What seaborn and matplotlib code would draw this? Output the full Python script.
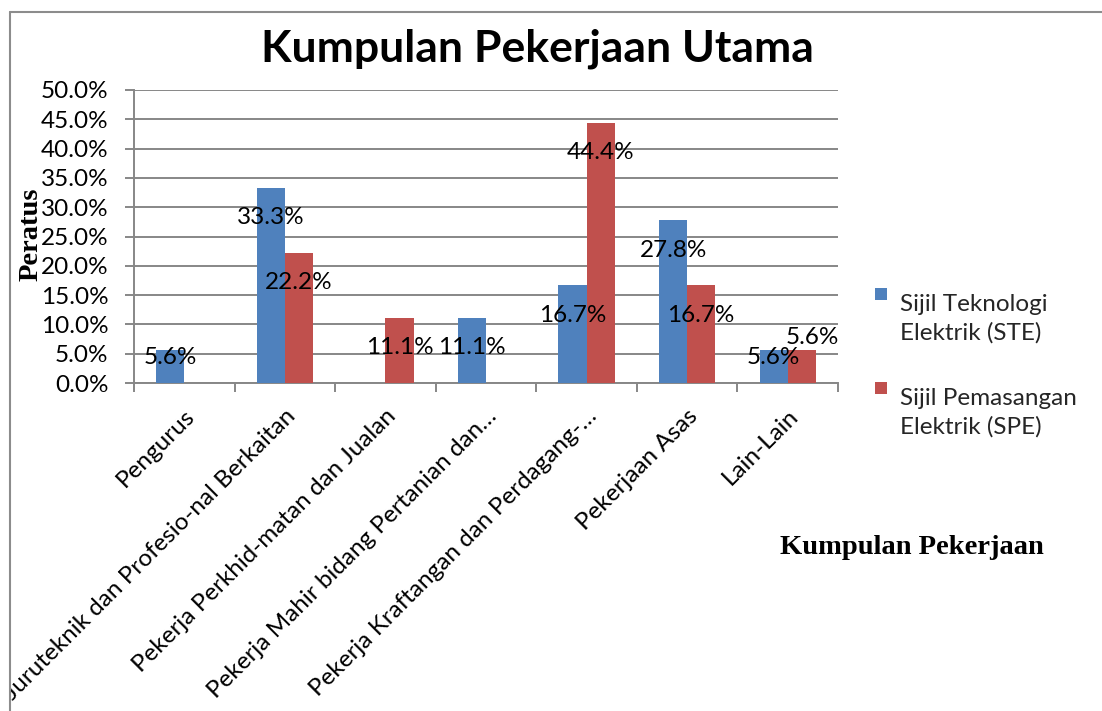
import matplotlib
matplotlib.use("Agg")
import matplotlib.pyplot as plt
import matplotlib.ticker as mticker
from matplotlib.patches import Patch, Rectangle
from matplotlib.legend_handler import HandlerPatch
from matplotlib.transforms import Bbox
import seaborn as sns
import pandas as pd

# --- data -----------------------------------------------------------------
categories = [
    "Pengurus",
    "Juruteknik dan Profesio-nal Berkaitan",
    "Pekerja Perkhid-matan dan Jualan",
    "Pekerja Mahir bidang Pertanian dan…",
    "Pekerja Kraftangan dan Perdagang-…",
    "Pekerjaan Asas",
    "Lain-Lain",
]
series_names = ["Sijil Teknologi\nElektrik (STE)", "Sijil Pemasangan\nElektrik (SPE)"]
ste_values = [5.6, 33.3, 0.0, 11.1, 16.7, 27.8, 5.6]
spe_values = [0.0, 22.2, 11.1, 0.0, 44.4, 16.7, 5.6]
y_ticks = [0, 5, 10, 15, 20, 25, 30, 35, 40, 45, 50]

title_text = "Kumpulan Pekerjaan Utama"
x_title = "Kumpulan Pekerjaan"
y_title = "Peratus"

colors = ["#4F81BD", "#C0504D"]
grid_color = "#878787"
base_fs = 17.5

# --- long-format table for seaborn ---------------------------------------
rows = []
for s_name, vals in zip(series_names, [ste_values, spe_values]):
    for cat, v in zip(categories, vals):
        rows.append({"kategori": cat, "peratus": v, "sijil": s_name})
df = pd.DataFrame(rows)

sns.set_theme(style="white")
plt.rcParams["font.family"] = ["Lato", "DejaVu Sans"]

fig = plt.figure(figsize=(11.02, 7.11), dpi=100)
ax = fig.add_axes([134 / 1102, 1 - 383 / 711, 704 / 1102, 293 / 711])

sns.barplot(
    data=df, x="kategori", y="peratus", hue="sijil",
    order=categories, hue_order=series_names,
    palette=colors, saturation=1, width=0.56, dodge=True,
    errorbar=None, legend=False, ax=ax, zorder=3,
)
for p in ax.patches:
    p.set_edgecolor("none")
    p.set_linewidth(0)

# axes limits and grid
ax.set_xlim(-0.5, len(categories) - 0.5)
ax.set_ylim(0, 50)
ax.set_yticks(y_ticks)
ax.yaxis.set_major_formatter(mticker.FuncFormatter(lambda v, _: f"{v:.1f}%"))
ax.grid(axis="y", color=grid_color, linewidth=1.4, zorder=0)
ax.set_axisbelow(True)

for side in ["top", "right"]:
    ax.spines[side].set_visible(False)
for side in ["left", "bottom"]:
    ax.spines[side].set_color(grid_color)
    ax.spines[side].set_linewidth(1.4)

# tick marks sit on category boundaries, labels sit under category centres
ax.set_xticks([i - 0.5 for i in range(len(categories) + 1)], minor=False)
ax.set_xticklabels([])
ax.set_xticks(range(len(categories)), minor=True)
ax.set_xticklabels(categories, minor=True, rotation=45, ha="right",
                   rotation_mode="anchor", fontsize=base_fs, color="black")
ax.tick_params(axis="x", which="major", length=6.5, width=1.4, color=grid_color,
               direction="out", bottom=True)
ax.tick_params(axis="x", which="minor", length=0, pad=16)
ax.tick_params(axis="y", length=6.5, width=1.4, color=grid_color, direction="out",
               left=True, labelsize=base_fs, labelcolor="black", pad=12)

# clip category labels at the chart frame
clip = Bbox.from_extents(11, 0, 1102, 699)
for lbl in ax.get_xticklabels(minor=True):
    lbl.set_clip_box(clip)
    lbl.set_clip_on(True)

ax.set_xlabel("")
ax.set_ylabel("")

# value labels drawn just inside the top of each bar
px_per_unit = 293 / 50
label_drop = 30 / px_per_unit
label_floor = 4.4
nudge = {(6, 1): 0.1}
lift = {(6, 1): 7.7}
bar_w = 0.28
for s_idx, vals in enumerate([ste_values, spe_values]):
    for c_idx, v in enumerate(vals):
        if v <= 0:
            continue
        xc = c_idx + (s_idx - 0.5) * bar_w + nudge.get((c_idx, s_idx), 0.0)
        yc = lift.get((c_idx, s_idx), max(v - label_drop, label_floor))
        ax.text(xc, yc, f"{v:.1f}%", ha="center", va="center",
                fontsize=base_fs, color="black", zorder=5)

# titles
fig.text(537 / 1102, 1 - 49 / 711, title_text, ha="center", va="center",
         fontsize=32, fontweight="bold", color="black")
fig.text(912 / 1102, 1 - 548 / 711, x_title, ha="center", va="center",
         fontsize=20.5, fontweight="bold", family="Liberation Serif", color="black")
fig.text(31 / 1102, 1 - 234 / 711, y_title, ha="center", va="center",
         rotation=90, fontsize=20.5, fontweight="bold", family="Liberation Serif",
         color="black")


# legend: square marker level with the first line of each two-line entry
def top_square(legend, orig_handle, xdescent, ydescent, width, height, fontsize):
    side = 0.5 * fontsize
    return Rectangle((-xdescent, -ydescent + 1.05 * fontsize), side, side)


handles = [Patch(facecolor=c, edgecolor="none") for c in colors]
leg = fig.legend(handles, series_names, loc="upper left",
                 bbox_to_anchor=(853 / 1102, 1 - 272 / 711), frameon=False,
                 fontsize=base_fs, handlelength=0.5, handleheight=0.5,
                 handletextpad=0.55, labelspacing=1.85,
                 handler_map={Patch: HandlerPatch(patch_func=top_square)})
for t in leg.get_texts():
    t.set_linespacing(1.4)

# chart frame (top and left edges)
fig.add_artist(plt.Line2D([10 / 1102, 10 / 1102], [0, 1 - 11.5 / 711],
                          transform=fig.transFigure, color="#8c8c8c", lw=1.5))
fig.add_artist(plt.Line2D([10 / 1102, 1], [1 - 11.5 / 711, 1 - 11.5 / 711],
                          transform=fig.transFigure, color="#8c8c8c", lw=1.5))

fig.savefig("out.png", dpi=100)
